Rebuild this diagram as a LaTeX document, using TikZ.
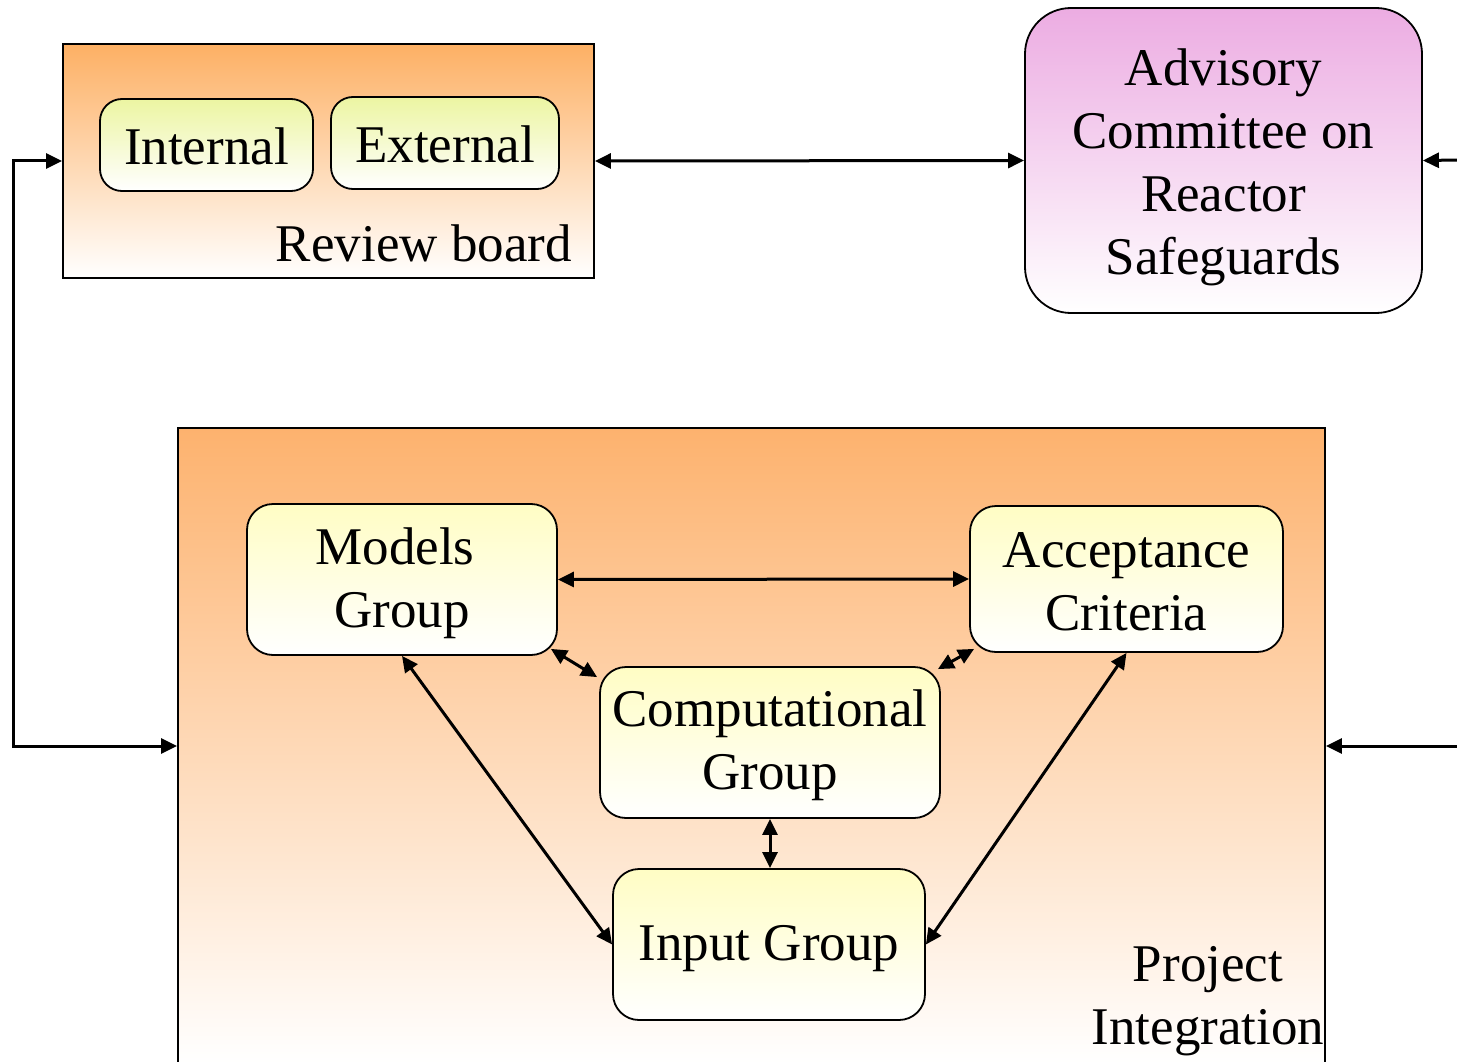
\documentclass[tikz,border=0pt]{standalone}
\usepackage{fontspec}
\setmainfont{Liberation Serif}
\usetikzlibrary{arrows.meta,calc}
\definecolor{boardorange}{RGB}{253,176,100}
\definecolor{projorange}{RGB}{253,178,110}
\definecolor{acrspink}{RGB}{236,172,226}
\definecolor{subyellow}{RGB}{236,245,162}
\definecolor{grpyellow}{RGB}{255,253,196}
% strut that sets the height of a first text line
\newcommand{\firstline}[1]{\rule{0pt}{#1}}
\tikzset{
  txt/.style={font=\fontsize{53}{63}\selectfont},
  frame/.style={draw=black, line width=1.8pt, rectangle, inner sep=0pt},
  board/.style={frame, top color=boardorange, bottom color=white},
  project/.style={frame, top color=projorange, bottom color=white},
  subbox/.style={frame, rounded corners=22pt, top color=subyellow, bottom color=white, txt, text height=40pt},
  grpbox/.style={frame, rounded corners=26pt, top color=grpyellow, bottom color=white, txt, align=center},
  acrs/.style={frame, rounded corners=46pt, top color=acrspink, bottom color=white, txt, align=center},
  link/.style={line width=3pt, {Triangle[length=16pt,width=15pt]}-{Triangle[length=16pt,width=15pt]}},
  feed/.style={line width=3pt, -{Triangle[length=16pt,width=15pt]}}
}
\begin{document}
\begin{tikzpicture}[x=1pt,y=-1pt]
  \useasboundingbox (0,0) rectangle (1457,1062);
  \clip (0,0) rectangle (1457,1062);

  % review board with its two panels
  \node[board, minimum width=531pt, minimum height=234pt] (rb) at (328.5,161) {};
  \node[subbox, minimum width=213pt, minimum height=92pt] (int) at (206.5,145) {Internal};
  \node[subbox, minimum width=228pt, minimum height=92pt] (ext) at (445,143) {External};
  \node[txt, anchor=east, inner sep=0pt] (rblabel) at (572,243) {Review board};

  % advisory committee
  \node[acrs, minimum width=397pt, minimum height=305pt] (acrs) at (1223.5,160.5)
    {\firstline{51pt}Advisory\\Committee on\\Reactor\\Safeguards};

  % project integration area and its groups
  \node[project, minimum width=1147pt, minimum height=636pt] (proj) at (751.5,746) {};
  \node[grpbox, minimum width=310pt, minimum height=151pt] (models) at (402,579.5)
    {\firstline{45pt}Models\hspace*{14pt}\\Group};
  \node[grpbox, minimum width=313pt, minimum height=146pt] (accept) at (1126.5,579)
    {\firstline{41pt}Acceptance\\Criteria};
  \node[grpbox, minimum width=340pt, minimum height=151pt] (comp) at (770,742.5)
    {\firstline{43pt}Computational\\Group};
  \node[grpbox, minimum width=312pt, minimum height=151pt, text height=44pt] (input) at (769,944.5) {Input Group};
  \node[txt, align=center, inner sep=0pt] (projlabel) at (1208,1001) {Project\\Integration};

  % incoming feeds from the right
  \coordinate (rtop) at (1460,160);
  \coordinate (rbot) at (1460,746);
  \draw[feed] (rtop) -- (acrs.east);
  \draw[feed] (rbot) -- (proj.east);

  % review board links
  \draw[link] (rb.east) -- (acrs.west);
  \draw[link] (rb.west) -- ++(-49,0) |- (proj.west);

  % links between the groups
  \draw[link] (models.east) -- (accept.west);
  \draw[link] ($(models.south east)+(-7,-7)$) -- ($(comp.north west)+(-2,11)$);
  \draw[link] ($(accept.south west)+(5,-4)$) -- ($(comp.north east)+(-3,3)$);
  \draw[link] (comp.south) -- (comp.south |- input.north);
  \draw[link] (models.south) -- (input.west);
  \draw[link] (accept.south) -- (input.east);
\end{tikzpicture}
\end{document}
